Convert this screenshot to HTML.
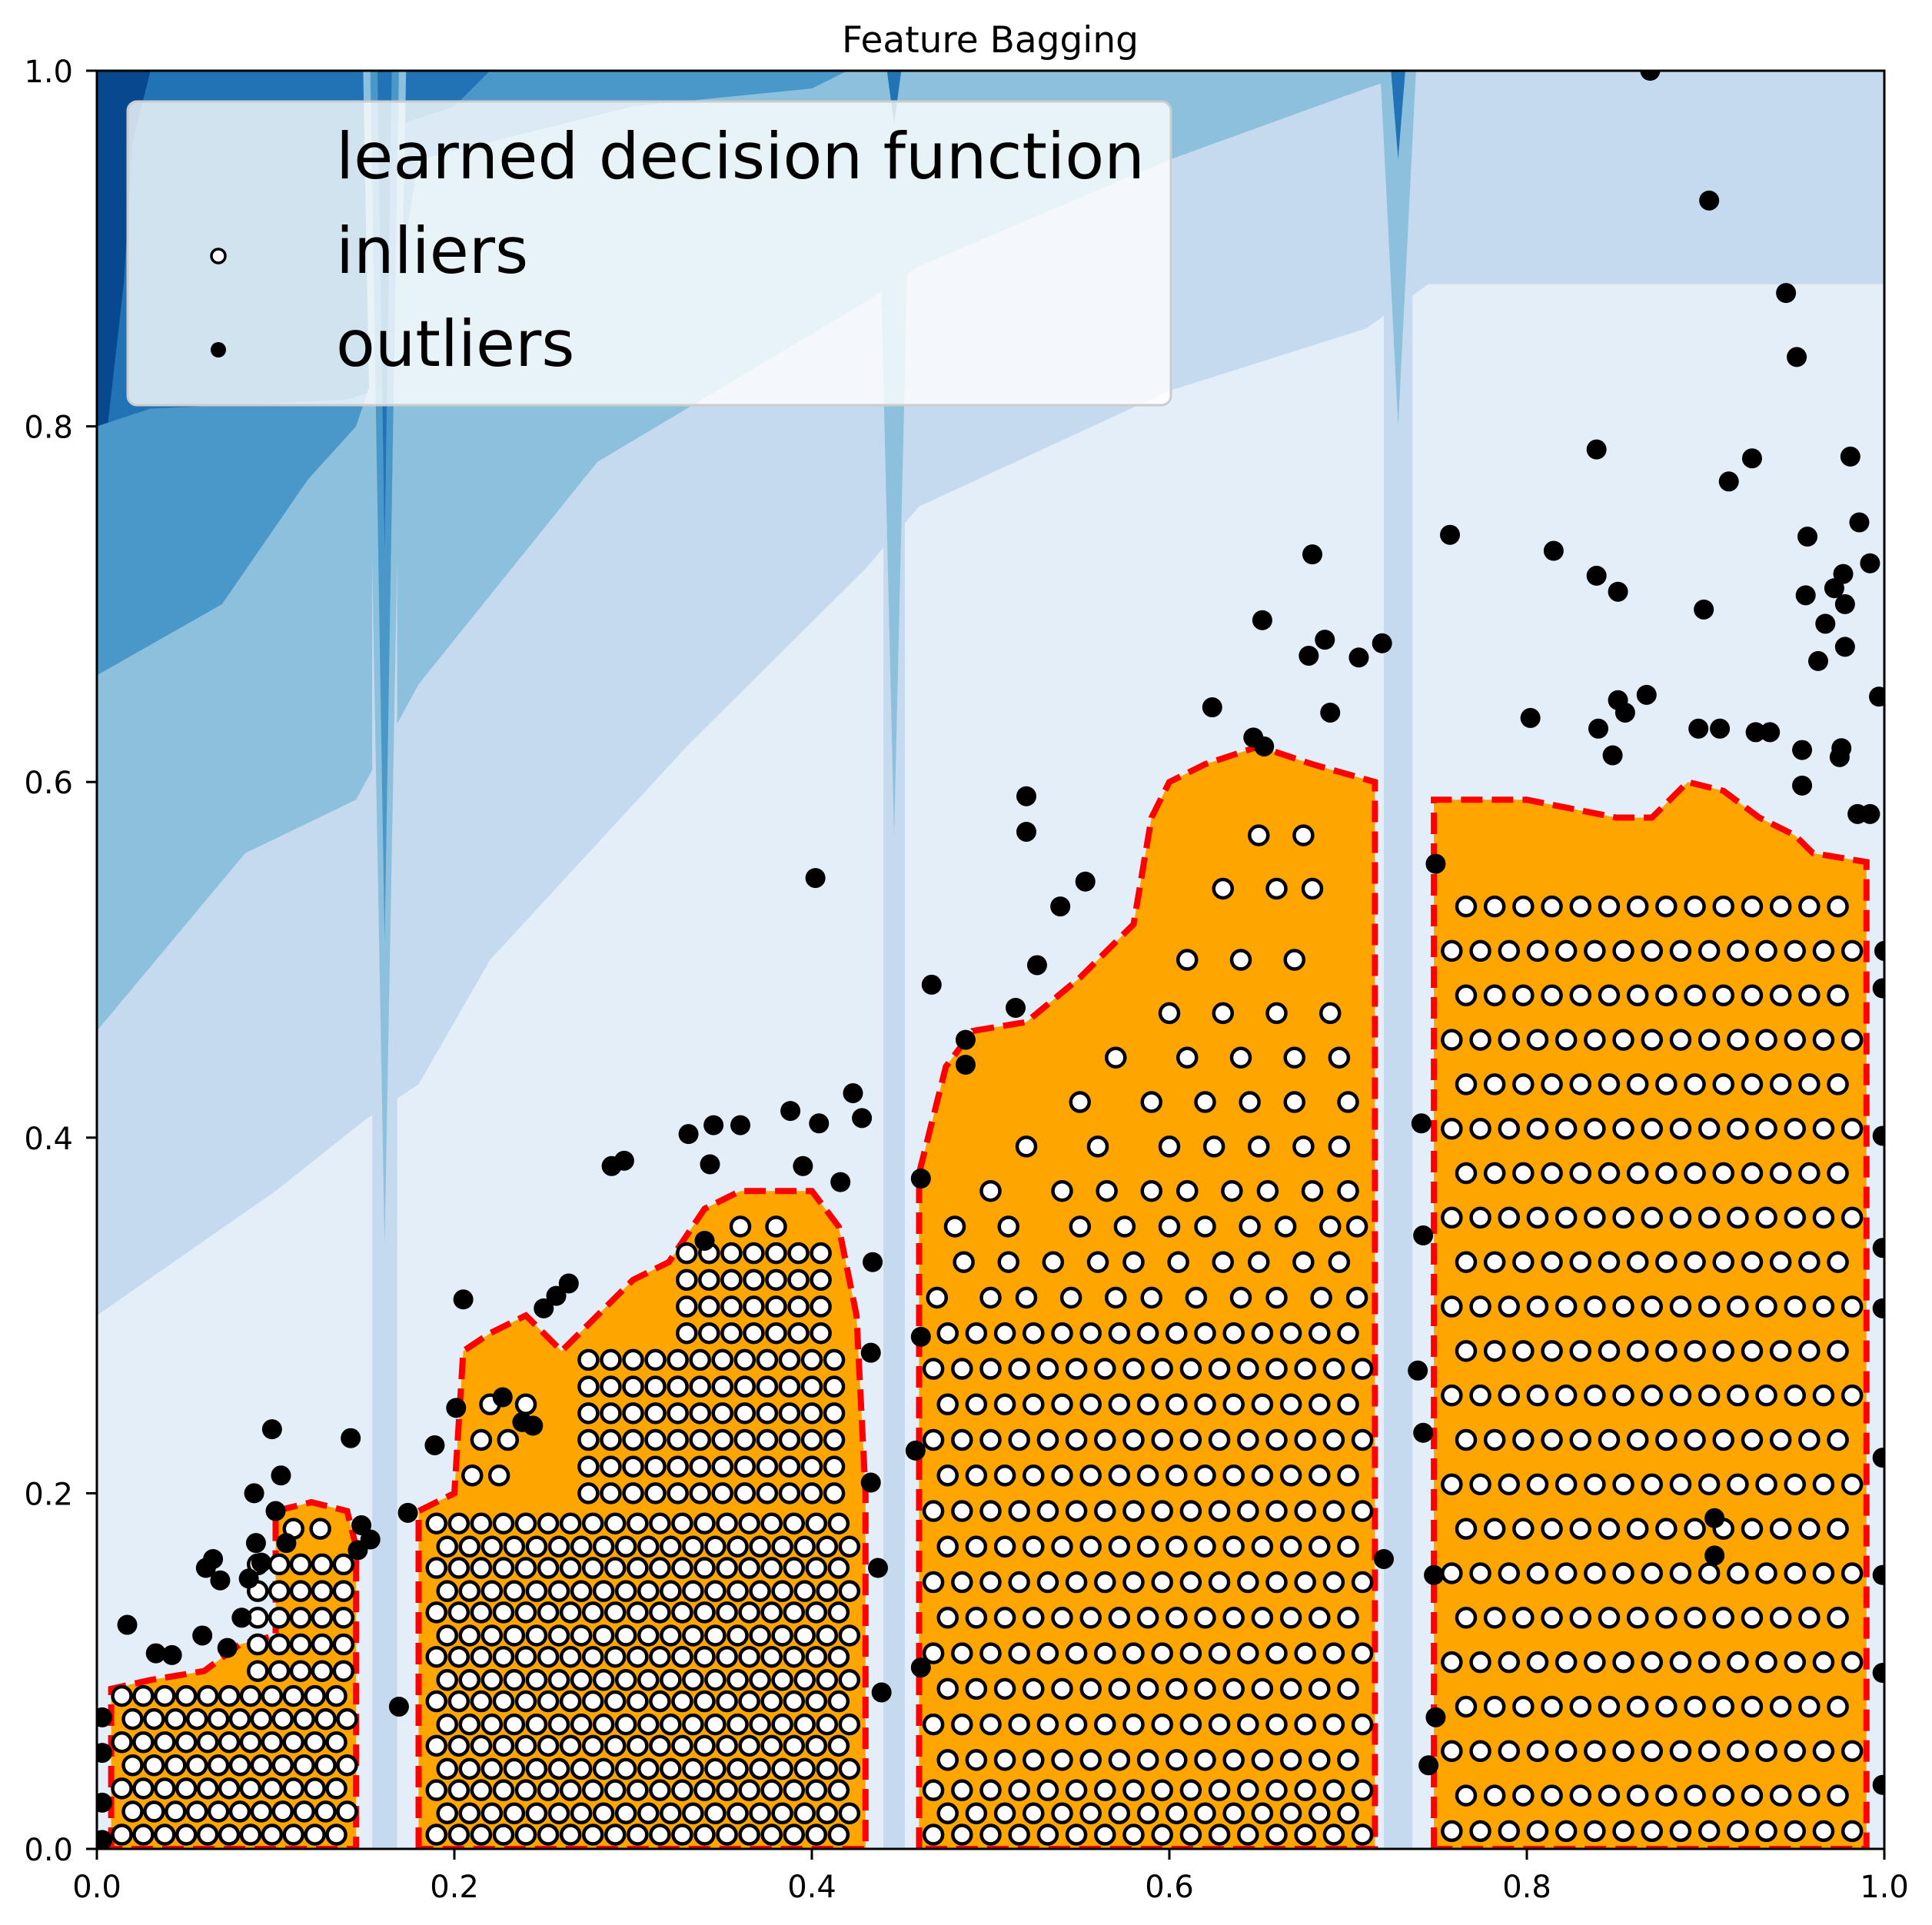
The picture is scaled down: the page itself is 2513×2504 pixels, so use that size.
<!DOCTYPE html>
<html><head><meta charset="utf-8"><style>
html,body{margin:0;padding:0;background:#fff;}
svg{display:block;font-family:"DejaVu Sans","Liberation Sans",sans-serif;}
</style></head><body>
<svg id="chart" width="2513" height="2504" viewBox="0 0 2513 2504" xmlns="http://www.w3.org/2000/svg">
<text x="1288" y="68" font-size="47" text-anchor="middle" fill="#000">Feature Bagging</text>
<defs><clipPath id="plotclip"><rect x="126" y="92" width="2325" height="2313"/></clipPath></defs>
<g id="plot" clip-path="url(#plotclip)"></g>
<g id="axes"></g>
<g id="legend">
 <rect x="166" y="132" width="1357" height="395" rx="12" fill="#ffffff" fill-opacity="0.8" stroke="#cccccc" stroke-width="3"/>
 <text x="437" y="232" font-size="83" textLength="1052" lengthAdjust="spacingAndGlyphs">learned decision function</text>
 <circle cx="284" cy="333" r="9" fill="#fff" stroke="#000" stroke-width="3.5"/>
 <text x="437" y="355" font-size="83">inliers</text>
 <circle cx="284" cy="455" r="10" fill="#000"/>
 <text x="437" y="476" font-size="83">outliers</text>
</g>
</svg>
<script>
const xTicks = [0.0,0.2,0.4,0.6,0.8,1.0];
const yTicks = [0.0,0.2,0.4,0.6,0.8,1.0];
const tickLabels = ["0.0","0.2","0.4","0.6","0.8","1.0"];
const levelColors = ["#08488e","#2272b6","#4a98c9","#8dc0dd","#c5daee","#e3eef9"];
const boundaryL1 = [[0,0.55],[0.006,0.8],[0.015,0.88],[0.02,0.96],[0.03,1],[1,1]];
const boundaryL2 = [[0,0.8],[0.03,0.81],[0.14,0.815],[0.155,0.82],[0.17,0.97],[0.2,0.98],[0.22,1],[1,1]];
const boundaryL3 = [[0,0.66],[0.07,0.7],[0.118,0.77],[0.145,0.8],[0.165,0.86],[0.18,0.95],[0.3,0.98],[0.4,0.99],[0.42,1],[1,1]];
const boundaryL4 = [[0,0.46],[0.083,0.56],[0.145,0.59],[0.18,0.655],[0.28,0.78],[0.43,0.87],[0.46,0.89],[0.6,0.95],[0.71,0.99],[0.74,1],[1,1]];
const boundaryL5 = [[0,0.3],[0.1,0.37],[0.15,0.41],[0.18,0.43],[0.22,0.5],[0.33,0.62],[0.43,0.72],[0.46,0.755],[0.6,0.82],[0.71,0.855],[0.745,0.88],[1,0.88]];
const spikeX = [0.161,0.161,0.161,0.446,0.446,0.728,0.728];
const spikeHalf = [0.012,0.008,0.004,0.01,0.004,0.01,0.004];
const spikeTip = [0.34,0.51,0.73,0.57,0.97,0.8,0.95];
const spikeLevel = [3,2,1,3,1,3,1];
const stripeX = [0.161,0.446,0.728];
const stripeHalf = [0.007,0.006,0.008];
const region1 = [[0.008,0],[0.008,0.09],[0.03,0.095],[0.06,0.1],[0.08,0.115],[0.1,0.12],[0.1,0.19],[0.12,0.195],[0.14,0.19],[0.145,0.17],[0.145,0]];
const region2 = [[0.18,0],[0.18,0.19],[0.2,0.2],[0.205,0.28],[0.22,0.29],[0.24,0.3],[0.26,0.28],[0.28,0.3],[0.3,0.32],[0.32,0.33],[0.34,0.36],[0.36,0.37],[0.4,0.37],[0.415,0.35],[0.425,0.3],[0.43,0.2],[0.43,0]];
const region3 = [[0.46,0],[0.46,0.38],[0.475,0.44],[0.49,0.46],[0.52,0.465],[0.55,0.49],[0.58,0.52],[0.59,0.58],[0.6,0.6],[0.62,0.61],[0.65,0.62],[0.68,0.61],[0.715,0.6],[0.715,0]];
const region4 = [[0.748,0],[0.748,0.59],[0.78,0.59],[0.8,0.59],[0.85,0.58],[0.87,0.58],[0.89,0.6],[0.91,0.595],[0.93,0.58],[0.95,0.57],[0.96,0.56],[0.99,0.555],[0.99,0]];

const c1A = [0.014,0.026,0.038,0.05,0.062,0.074,0.086,0.098,0.11,0.122,0.134];
const c1B = [0.02,0.032,0.044,0.056,0.068,0.08,0.092,0.104,0.116,0.128,0.14];
const c1U = [0.09,0.102,0.114,0.126,0.138];
const rowsCluster1 = [[0.008,c1A],[0.021,c1B],[0.034,c1A],[0.047,c1B],[0.06,c1A],[0.073,c1B],[0.086,c1A],
 [0.1,c1U],[0.115,c1U],[0.13,c1U],[0.145,c1U],[0.16,c1U],[0.18,[0.11,0.125]]];

const c2A = [0.19,0.2025,0.215,0.2275,0.24,0.2525,0.265,0.2775,0.29,0.3025,0.315,0.3275,0.34,0.3525,0.365,0.3775,0.39,0.4025,0.415];
const c2B = [0.196,0.2085,0.221,0.2335,0.246,0.2585,0.271,0.2835,0.296,0.3085,0.321,0.3335,0.346,0.3585,0.371,0.3835,0.396,0.4085,0.421];
const c2U = [0.275,0.2875,0.3,0.3125,0.325,0.3375,0.35,0.3625,0.375,0.3875,0.4,0.4125];
const c2T = [0.33,0.3425,0.355,0.3675,0.38,0.3925,0.405];
const rowsCluster2 = [[0.008,c2A],[0.02,c2B],[0.033,c2A],[0.045,c2B],[0.058,c2A],[0.07,c2B],[0.083,c2A],[0.095,c2B],
 [0.108,c2A],[0.12,c2B],[0.133,c2A],[0.145,c2B],[0.158,c2A],[0.17,c2B],[0.183,c2A],
 [0.2,c2U],[0.215,c2U],[0.23,c2U],[0.245,c2U],[0.26,c2U],[0.275,c2U],
 [0.29,c2T],[0.305,c2T],[0.32,c2T],[0.335,c2T],[0.35,[0.36,0.38]],
 [0.21,[0.21,0.225]],[0.23,[0.215,0.23]],[0.25,[0.22,0.24]]];

const c3A = [0.468,0.484,0.5,0.516,0.532,0.548,0.564,0.58,0.596,0.612,0.628,0.644,0.66,0.676,0.692,0.708];
const c3B = [0.476,0.492,0.508,0.524,0.54,0.556,0.572,0.588,0.604,0.62,0.636,0.652,0.668,0.684,0.7];
const rowsCluster3 = [[0.008,c3A],[0.02,c3B],[0.033,c3A],[0.05,c3B],[0.07,c3A],[0.09,c3B],[0.11,c3A],[0.13,c3B],
 [0.15,c3A],[0.17,c3B],[0.19,c3A],[0.21,c3B],[0.23,c3A],[0.25,c3B],[0.27,c3A],[0.29,c3B],
 [0.31,[0.47,0.5,0.52,0.545,0.57,0.59,0.615,0.64,0.66,0.685,0.705]],
 [0.33,[0.485,0.51,0.535,0.56,0.58,0.605,0.63,0.65,0.675,0.695]],
 [0.35,[0.48,0.51,0.55,0.575,0.6,0.62,0.645,0.665,0.69,0.705]],
 [0.37,[0.5,0.54,0.565,0.59,0.61,0.635,0.655,0.68,0.7]],
 [0.395,[0.52,0.56,0.6,0.625,0.65,0.675,0.695]],
 [0.42,[0.55,0.59,0.62,0.645,0.67,0.7]],
 [0.445,[0.57,0.61,0.64,0.67,0.695]],
 [0.47,[0.6,0.63,0.66,0.69]],
 [0.5,[0.61,0.64,0.67]],
 [0.54,[0.63,0.66,0.68]],
 [0.57,[0.65,0.675]]];

const c4A = [0.758,0.774,0.79,0.806,0.822,0.838,0.854,0.87,0.886,0.902,0.918,0.934,0.95,0.966,0.982];
const c4B = [0.766,0.782,0.798,0.814,0.83,0.846,0.862,0.878,0.894,0.91,0.926,0.942,0.958,0.974];
const rowsCluster4 = [
 [0.01,c4A],[0.03,c4B],[0.055,c4A],[0.08,c4B],[0.105,c4A],[0.13,c4B],[0.155,c4A],[0.18,c4B],
 [0.205,c4A],[0.23,c4B],[0.255,c4A],[0.28,c4B],[0.305,c4A],[0.33,c4B],[0.355,c4A],[0.38,c4B],
 [0.405,c4A],[0.43,c4B],[0.455,c4A],[0.48,c4B],[0.505,c4A],[0.53,c4B]];

const outliers = [[0.142,0.231],[0.098,0.236],[0.103,0.21],[0.088,0.2],[0.1,0.19],[0.065,0.163],[0.061,0.158],[0.069,0.151],[0.085,0.152],[0.092,0.161],[0.089,0.172],[0.106,0.172],[0.081,0.13],[0.059,0.12],[0.017,0.126],[0.033,0.11],[0.042,0.109],[0.073,0.113],[0.153,0.174],[0.148,0.182],[0.146,0.168],
[0.003,0.074],[0.003,0.054],[0.003,0.026],[0.003,0.005],
[0.169,0.08],[0.174,0.189],[0.189,0.227],[0.201,0.248],[0.205,0.309],[0.238,0.24],[0.244,0.238],[0.227,0.254],[0.288,0.384],[0.295,0.387],[0.331,0.402],[0.343,0.385],[0.345,0.407],[0.36,0.407],[0.388,0.415],[0.395,0.384],[0.404,0.408],[0.402,0.546],[0.423,0.425],[0.428,0.411],[0.416,0.375],[0.434,0.33],[0.264,0.318],[0.257,0.311],[0.25,0.304],[0.34,0.342],[0.433,0.279],[0.433,0.206],[0.437,0.158],[0.439,0.088],
[0.467,0.486],[0.486,0.455],[0.486,0.441],[0.514,0.473],[0.52,0.592],[0.52,0.572],[0.526,0.497],[0.539,0.53],[0.553,0.544],[0.624,0.642],[0.652,0.691],[0.68,0.728],[0.678,0.671],[0.687,0.68],[0.69,0.639],[0.706,0.67],[0.719,0.678],[0.647,0.625],[0.653,0.62],[0.461,0.377],[0.461,0.288],[0.458,0.224],[0.461,0.102],[0.72,0.163],
[0.757,0.739],[0.815,0.73],[0.839,0.716],[0.851,0.707],[0.839,0.787],[0.869,1.0],[0.902,0.927],[0.945,0.875],[0.951,0.839],[0.913,0.769],[0.926,0.782],[0.981,0.783],[0.986,0.746],[0.992,0.723],[0.957,0.738],[0.977,0.717],[0.972,0.709],[0.956,0.705],[0.978,0.7],[0.899,0.697],[0.967,0.689],[0.978,0.676],[0.963,0.668],[0.997,0.648],[0.802,0.636],[0.867,0.649],[0.851,0.646],[0.855,0.639],[0.84,0.63],[0.848,0.615],[0.896,0.63],[0.908,0.63],[0.928,0.628],[0.936,0.628],[0.976,0.619],[0.975,0.614],[0.954,0.618],[0.954,0.598],[0.985,0.582],[0.992,0.582],[0.741,0.408],[0.749,0.554],[0.742,0.345],[0.739,0.269],[0.742,0.234],[0.748,0.154],[0.749,0.074],[0.745,0.047],[0.999,0.484],[1.0,0.505],[0.999,0.401],[0.999,0.338],[0.999,0.304],[0.999,0.22],[0.999,0.154],[0.999,0.099],[0.999,0.036],[0.905,0.165],[0.905,0.186]];

const X0=126,X1=2451,Y0=2405,Y1=92;
const sx = v => X0 + v*(X1-X0);
const sy = v => Y0 - v*(Y0-Y1);
const NS="http://www.w3.org/2000/svg";
const plot=document.getElementById('plot');
const axes=document.getElementById('axes');
function mk(tag, parent, attrs){const e=document.createElementNS(NS,tag);for(const k in attrs)e.setAttribute(k,attrs[k]);parent.appendChild(e);return e;}
const ptsStr = arr => arr.map(p=>sx(p[0]).toFixed(1)+','+sy(p[1]).toFixed(1)).join(' ');

let bg = mk('rect',plot,{x:X0,y:Y1,width:X1-X0,height:Y0-Y1,fill:levelColors[0]});


[boundaryL1,boundaryL2,boundaryL3,boundaryL4,boundaryL5].forEach((b,i)=>{
  const poly=[[0,0]].concat(b).concat([[1,0]]);
  const e=mk('polygon',plot,{points:ptsStr(poly),fill:levelColors[i+1]});
  
  
});
stripeX.forEach((c,i)=>{
  const e=mk('polygon',plot,{points:ptsStr([[c-stripeHalf[i],0],[c-stripeHalf[i],1],[c+stripeHalf[i],1],[c+stripeHalf[i],0]]),fill:levelColors[4]});
  
  
});
spikeX.forEach((c,i)=>{
  const e=mk('polygon',plot,{points:ptsStr([[c-spikeHalf[i],1],[c+spikeHalf[i],1],[c,spikeTip[i]]]),fill:levelColors[spikeLevel[i]]});
  
  
});
[region1,region2,region3,region4].forEach((r,i)=>{
  const e=mk('polygon',plot,{points:ptsStr(r),fill:'#ffa500'});
  
  
});
[region1,region2,region3,region4].forEach((r,i)=>{
  const e=mk('polygon',plot,{points:ptsStr(r),fill:'none',stroke:'#ff0000','stroke-width':8,'stroke-dasharray':'28 12'});
  
  
});
const inliers = [];
[rowsCluster1,rowsCluster2,rowsCluster3,rowsCluster4].forEach(rows=>rows.forEach(r=>r[1].forEach(x=>inliers.push([x,r[0]]))));
inliers.forEach(p=>{
  const e=mk('circle',plot,{cx:sx(p[0]),cy:sy(p[1]),r:12,fill:'#fff',stroke:'#000','stroke-width':4.5});
  
  
});
outliers.forEach(p=>{
  const e=mk('circle',plot,{cx:sx(p[0]),cy:sy(p[1]),r:13,fill:'#000'});
  
  
});
const fr=mk('rect',axes,{x:X0,y:Y1,width:X1-X0,height:Y0-Y1,fill:'none',stroke:'#000','stroke-width':3});


xTicks.forEach((t,i)=>{
  const l=mk('line',axes,{x1:sx(t),x2:sx(t),y1:Y0,y2:Y0+14,stroke:'#000','stroke-width':3});
  
  
  const tx=mk('text',axes,{x:sx(t),y:2468,'font-size':40,'text-anchor':'middle'});
  tx.textContent=tickLabels[i];
  
  
});
yTicks.forEach((t,i)=>{
  const l=mk('line',axes,{x1:X0-14,x2:X0,y1:sy(t),y2:sy(t),stroke:'#000','stroke-width':3});
  
  
  const tx=mk('text',axes,{x:95,y:sy(t)+15,'font-size':40,'text-anchor':'end'});
  tx.textContent=tickLabels[i];
  
  
});
</script>
</body></html>
